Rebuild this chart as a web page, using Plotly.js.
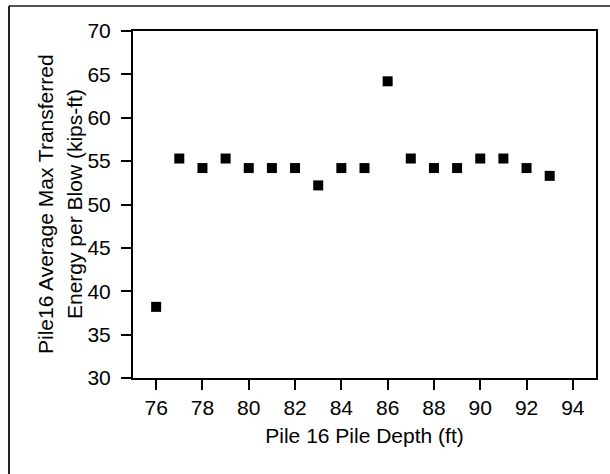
<!DOCTYPE html>
<html>
<head>
<meta charset="utf-8">
<script src="https://cdn.plot.ly/plotly-3.0.1.min.js"></script>
<style>
html, body { margin: 0; padding: 0; background: #fff; }
#chart { width: 610px; height: 474px; }
</style>
</head>
<body>
<div id="chart"></div>
<script>
var depth = [76, 77, 78, 79, 80, 81, 82, 83, 84, 85, 86, 87, 88, 89, 90, 91, 92, 93];
var energy = [38.2, 55.3, 54.2, 55.3, 54.2, 54.2, 54.2, 52.2, 54.2, 54.2, 64.2, 55.3, 54.2, 54.2, 55.3, 55.3, 54.2, 53.3];
var xTicks = [76, 78, 80, 82, 84, 86, 88, 90, 92, 94];
var yTicks = [30, 35, 40, 45, 50, 55, 60, 65, 70];
var xTitle = "Pile 16 Pile Depth (ft)";
var yTitleLines = ["Pile16 Average Max Transferred", "Energy per Blow (kips-ft)"];

var font = "Liberation Sans, Arial, sans-serif";
var fs = 21;

var trace = {
  x: depth,
  y: energy,
  type: "scatter",
  mode: "markers",
  marker: { symbol: "square", size: 10, color: "#000" },
  hoverinfo: "x+y"
};

var L = 133, R = 596, T = 31, B = 378;
var pw = R - L, ph = B - T;
function px(x) { return (x - L) / pw; }
function py(y) { return (B - y) / ph; }

var layout = {
  width: 610,
  height: 474,
  margin: { l: L, r: 610 - R, t: T, b: 474 - B },
  paper_bgcolor: "#fff",
  plot_bgcolor: "#fff",
  showlegend: false,
  font: { family: font, size: fs, color: "#000" },
  xaxis: {
    range: [75, 95],
    tickvals: xTicks,
    ticktext: xTicks.map(String),
    ticks: "outside",
    ticklen: 10,
    tickwidth: 2,
    tickcolor: "#000",
    showline: true,
    linewidth: 2,
    linecolor: "#000",
    mirror: true,
    showgrid: false,
    zeroline: false,
    tickfont: { family: font, size: fs, color: "#000" },
    title: { text: xTitle, font: { family: font, size: fs, color: "#000" }, standoff: 10 }
  },
  yaxis: {
    range: [30, 70],
    tickvals: yTicks,
    ticktext: yTicks.map(String),
    ticks: "outside",
    ticklen: 10,
    tickwidth: 2,
    tickcolor: "#000",
    showline: true,
    linewidth: 2,
    linecolor: "#000",
    mirror: true,
    showgrid: false,
    zeroline: false,
    ticklabelstandoff: 6,
    tickfont: { family: font, size: fs, color: "#000" }
  },
  annotations: [
    { text: yTitleLines[0], xref: "paper", yref: "paper", x: px(45), y: py(204), xanchor: "center", yanchor: "middle", textangle: -90, showarrow: false, font: { family: font, size: fs, color: "#000" } },
    { text: yTitleLines[1], xref: "paper", yref: "paper", x: px(74), y: py(204), xanchor: "center", yanchor: "middle", textangle: -90, showarrow: false, font: { family: font, size: fs, color: "#000" } }
  ],
  shapes: [
    { type: "line", xref: "paper", yref: "paper", x0: px(9), x1: px(612), y0: py(6), y1: py(6), line: { color: "#555", width: 2 } },
    { type: "line", xref: "paper", yref: "paper", x0: px(9), x1: px(9), y0: py(6), y1: py(476), line: { color: "#222", width: 2 } }
  ]
};

Plotly.newPlot("chart", [trace], layout, { displayModeBar: false, staticPlot: true });
</script>
</body>
</html>
